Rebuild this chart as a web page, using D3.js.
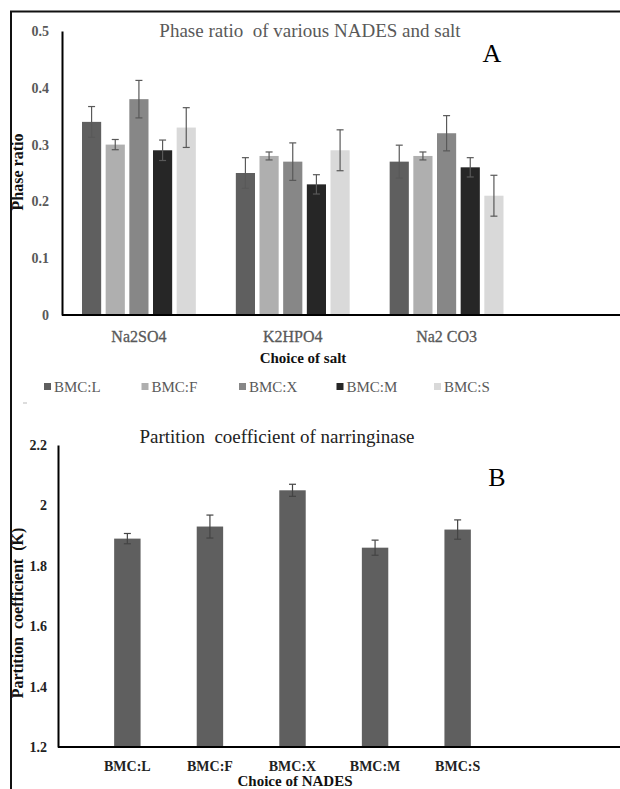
<!DOCTYPE html>
<html>
<head>
<meta charset="utf-8">
<script src="https://cdn.jsdelivr.net/npm/d3@7"></script>
<style>
  html, body { margin: 0; background: #fff; overflow: hidden; }
  svg { display: block; }
  svg text { font-family: "Liberation Serif", "Times New Roman", serif; }
</style>
</head>
<body>
<div id="chart"></div>
<script>
// panel A data
const salts = ["Na2SO4", "K2HPO4", "Na2 CO3"];
const nades = ["BMC:L", "BMC:F", "BMC:X", "BMC:M", "BMC:S"];
const nadesColors = ["#5f5f5f", "#afafaf", "#878787", "#262626", "#d9d9d9"];
// phase ratio, one array per salt, in nades order
const ratioNa2SO4 = [0.34, 0.30, 0.38, 0.29, 0.33];
const ratioK2HPO4 = [0.25, 0.28, 0.27, 0.23, 0.29];
const ratioNa2CO3 = [0.27, 0.28, 0.32, 0.26, 0.21];
const errNa2SO4 = [0.027, 0.009, 0.033, 0.018, 0.035];
const errK2HPO4 = [0.027, 0.007, 0.033, 0.017, 0.036];
const errNa2CO3 = [0.029, 0.007, 0.031, 0.017, 0.036];
const ratioTicks = [0, 0.1, 0.2, 0.3, 0.4, 0.5];

// panel B data
const partition = [1.89, 1.93, 2.05, 1.86, 1.92];
const partitionErr = [0.017, 0.038, 0.02, 0.025, 0.032];
const partitionTicks = [1.2, 1.4, 1.6, 1.8, 2.0, 2.2];

const width = 620, height = 789;
const gray = "#595959";
const serif = "Liberation Serif";

const svg = d3.select("#chart").append("svg")
  .attr("width", width)
  .attr("height", height)
  .attr("font-family", serif);

// outer frame (top + left only, the rest is cropped off)
svg.append("path")
  .attr("d", `M11,${height} V11.5 H${width}`)
  .attr("fill", "none")
  .attr("stroke", "#111")
  .attr("stroke-width", 2);

// ---------- Panel A ----------
const rows = [
  { salt: salts[0], vals: ratioNa2SO4, errs: errNa2SO4 },
  { salt: salts[1], vals: ratioK2HPO4, errs: errK2HPO4 },
  { salt: salts[2], vals: ratioNa2CO3, errs: errNa2CO3 }
];

const x0 = d3.scaleBand().domain(salts).range([62, 523.5]).paddingInner(0.26).paddingOuter(0.13);
const x1 = d3.scaleBand().domain(nades).range([0, x0.bandwidth()]).paddingInner(0.19);
const yA = d3.scaleLinear().domain([0, 0.5]).range([315, 31]);
const colorA = d3.scaleOrdinal(nades, nadesColors);

const gA = svg.append("g");

const groups = gA.selectAll("g.grp")
  .data(rows)
  .join("g")
  .attr("class", "grp")
  .attr("transform", d => `translate(${x0(d.salt)},0)`);

const cells = groups.selectAll("g.cell")
  .data(d => nades.map((n, i) => ({ n, v: d.vals[i], e: d.errs[i] })))
  .join("g")
  .attr("class", "cell");

cells.append("rect")
  .attr("x", d => x1(d.n))
  .attr("y", d => yA(d.v))
  .attr("width", x1.bandwidth())
  .attr("height", d => yA(0) - yA(d.v))
  .attr("fill", d => colorA(d.n));

// error bars
const errA = cells.append("g")
  .attr("stroke", gray)
  .attr("stroke-width", 1.2);
errA.append("line")
  .attr("x1", d => x1(d.n) + x1.bandwidth() / 2)
  .attr("x2", d => x1(d.n) + x1.bandwidth() / 2)
  .attr("y1", d => yA(d.v + d.e))
  .attr("y2", d => yA(d.v - d.e));
errA.selectAll("line.cap")
  .data(d => [d.v + d.e, d.v - d.e].map(y => ({ n: d.n, y })))
  .join("line")
  .attr("class", "cap")
  .attr("x1", d => x1(d.n) + x1.bandwidth() / 2 - 3.5)
  .attr("x2", d => x1(d.n) + x1.bandwidth() / 2 + 3.5)
  .attr("y1", d => yA(d.y))
  .attr("y2", d => yA(d.y));

// y axis A
const yAxisA = gA.append("g")
  .attr("transform", "translate(62,0)")
  .call(d3.axisLeft(yA).tickValues(ratioTicks).tickSize(0).tickPadding(13)
    .tickFormat(d => d === 0 ? "0" : d3.format(".1f")(d)));
yAxisA.attr("font-family", serif);
yAxisA.select(".domain").attr("stroke", "#000").attr("stroke-width", 2);
yAxisA.selectAll("text")
  .attr("font-size", 14)
  .attr("font-weight", "bold")
  .attr("fill", gray);

// x axis A
gA.append("line")
  .attr("x1", 62).attr("x2", width)
  .attr("y1", yA(0)).attr("y2", yA(0))
  .attr("stroke", "#000").attr("stroke-width", 2);
gA.selectAll("text.cat")
  .data(salts)
  .join("text")
  .attr("class", "cat")
  .attr("x", d => x0(d) + x0.bandwidth() / 2)
  .attr("y", 342)
  .attr("text-anchor", "middle")
  .attr("font-size", 16)
  .attr("fill", gray)
  .attr("stroke", gray)
  .attr("stroke-width", 0.3)
  .text(d => d);

gA.append("text")
  .attr("x", 303).attr("y", 363)
  .attr("text-anchor", "middle")
  .attr("font-size", 15).attr("font-weight", "bold")
  .attr("fill", "#111")
  .text("Choice of salt");

gA.append("text")
  .attr("transform", "translate(23,172) rotate(-90)")
  .attr("text-anchor", "middle")
  .attr("font-size", 16).attr("font-weight", "bold")
  .attr("fill", "#111")
  .text("Phase ratio");

gA.append("text")
  .attr("x", 310).attr("y", 37)
  .attr("text-anchor", "middle")
  .attr("font-size", 19)
  .attr("fill", gray)
  .attr("xml:space", "preserve")
  .text("Phase ratio  of various NADES and salt");

gA.append("text")
  .attr("x", 492).attr("y", 62)
  .attr("text-anchor", "middle")
  .attr("font-size", 26)
  .attr("fill", "#000")
  .text("A");

// legend
const lx = d3.scaleBand().domain(nades).range([44, 44 + 5 * 97.5]);
const leg = gA.selectAll("g.leg")
  .data(nades)
  .join("g")
  .attr("class", "leg")
  .attr("transform", d => `translate(${lx(d)},387)`);
leg.append("rect")
  .attr("x", 0).attr("y", -4)
  .attr("width", 7).attr("height", 7)
  .attr("fill", d => colorA(d));
leg.append("text")
  .attr("x", 10).attr("y", 5)
  .attr("font-size", 15)
  .attr("fill", gray)
  .text(d => d);

// stray mark under the legend
gA.append("line")
  .attr("x1", 23).attr("x2", 27)
  .attr("y1", 403).attr("y2", 403)
  .attr("stroke", "#bbb");

// ---------- Panel B ----------
const gB = svg.append("g");
const xB = d3.scaleBand().domain(nades).range([58, 527]).padding(0.68);
const yB = d3.scaleLinear().domain([1.2, 2.2]).range([747, 445]);

const barsB = gB.selectAll("g.bar")
  .data(nades.map((n, i) => ({ n, v: partition[i], e: partitionErr[i] })))
  .join("g")
  .attr("class", "bar");

barsB.append("rect")
  .attr("x", d => xB(d.n))
  .attr("y", d => yB(d.v))
  .attr("width", xB.bandwidth())
  .attr("height", d => yB(1.2) - yB(d.v))
  .attr("fill", "#5f5f5f");

const errB = barsB.append("g")
  .attr("stroke", "#444")
  .attr("stroke-width", 1.2);
errB.append("line")
  .attr("x1", d => xB(d.n) + xB.bandwidth() / 2)
  .attr("x2", d => xB(d.n) + xB.bandwidth() / 2)
  .attr("y1", d => yB(d.v + d.e))
  .attr("y2", d => yB(d.v - d.e));
errB.selectAll("line.cap")
  .data(d => [d.v + d.e, d.v - d.e].map(y => ({ n: d.n, y })))
  .join("line")
  .attr("class", "cap")
  .attr("x1", d => xB(d.n) + xB.bandwidth() / 2 - 3.5)
  .attr("x2", d => xB(d.n) + xB.bandwidth() / 2 + 3.5)
  .attr("y1", d => yB(d.y))
  .attr("y2", d => yB(d.y));

const yAxisB = gB.append("g")
  .attr("transform", "translate(58,0)")
  .call(d3.axisLeft(yB).tickValues(partitionTicks).tickSize(0).tickPadding(11)
    .tickFormat(d => String(+d.toFixed(1))));
yAxisB.attr("font-family", serif);
yAxisB.select(".domain").attr("stroke", "#000").attr("stroke-width", 2);
yAxisB.selectAll("text")
  .attr("font-size", 14)
  .attr("font-weight", "bold")
  .attr("fill", "#222");

gB.append("line")
  .attr("x1", 58).attr("x2", width)
  .attr("y1", yB(1.2)).attr("y2", yB(1.2))
  .attr("stroke", "#000").attr("stroke-width", 2);

gB.selectAll("text.cat")
  .data(nades)
  .join("text")
  .attr("class", "cat")
  .attr("x", d => xB(d) + xB.bandwidth() / 2)
  .attr("y", 771)
  .attr("text-anchor", "middle")
  .attr("font-size", 14).attr("font-weight", "bold")
  .attr("fill", "#222")
  .text(d => d);

gB.append("text")
  .attr("x", 295).attr("y", 786)
  .attr("text-anchor", "middle")
  .attr("font-size", 15).attr("font-weight", "bold")
  .attr("fill", "#111")
  .text("Choice of NADES");

gB.append("text")
  .attr("transform", "translate(23,613) rotate(-90)")
  .attr("text-anchor", "middle")
  .attr("font-size", 16).attr("font-weight", "bold")
  .attr("fill", "#111")
  .attr("xml:space", "preserve")
  .text("Partition  coefficient  (K)");

gB.append("text")
  .attr("x", 277).attr("y", 443)
  .attr("text-anchor", "middle")
  .attr("font-size", 19)
  .attr("fill", "#222")
  .attr("xml:space", "preserve")
  .text("Partition  coefficient of narringinase");

gB.append("text")
  .attr("x", 497).attr("y", 486)
  .attr("text-anchor", "middle")
  .attr("font-size", 26)
  .attr("fill", "#000")
  .text("B");
</script>
</body>
</html>
